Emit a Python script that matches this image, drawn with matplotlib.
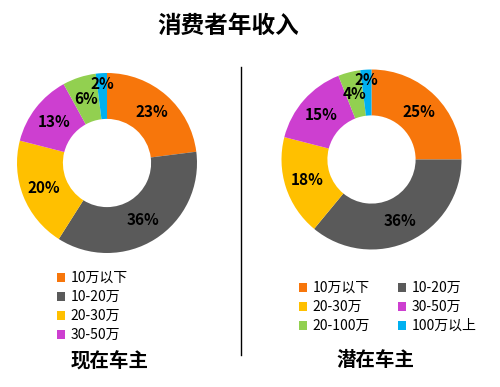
import matplotlib

matplotlib.use("Agg")
import matplotlib.pyplot as plt
from matplotlib.lines import Line2D
from matplotlib.patches import Patch

plt.rcParams["font.family"] = ["Noto Sans CJK SC", "DejaVu Sans"]

TITLE = "消费者年收入"
CATEGORIES = ["10万以下", "10-20万", "20-30万", "30-50万", "20-100万", "100万以上"]
CURRENT_OWNERS = [23, 36, 20, 13, 6, 2]
POTENTIAL_OWNERS = [25, 36, 18, 15, 4, 2]
GROUP_NAMES = ["现在车主", "潜在车主"]
COLORS = ["#F7760B", "#5A5A5A", "#FFC000", "#CD3FD0", "#92D050", "#00B0F0"]

W, H = 500, 387


def px_box(cx, cy, r):
    return [(cx - r) / W, (H - cy - r) / H, 2 * r / W, 2 * r / H]


def draw_donut(ax, values):
    wedges, _, autotexts = ax.pie(
        values,
        colors=COLORS,
        startangle=90,
        counterclock=False,
        radius=1.0,
        wedgeprops=dict(width=0.51, linewidth=0),
        autopct=lambda p: f"{p:.0f}%",
        pctdistance=0.75,
        textprops=dict(fontsize=11, fontweight="bold", color="black"),
    )
    # smallest slice label sits further out, near the rim
    last = autotexts[-1]
    x, y = last.get_position()
    last.set_position((x * 0.88 / 0.75, y * 0.88 / 0.75))
    ax.set_xlim(-1, 1)
    ax.set_ylim(-1, 1)
    return wedges


fig = plt.figure(figsize=(W / 100, H / 100), dpi=100)

ax_left = fig.add_axes(px_box(107, 163, 90))
wedges_left = draw_donut(ax_left, CURRENT_OWNERS)

ax_right = fig.add_axes(px_box(371.5, 159.5, 90))
wedges_right = draw_donut(ax_right, POTENTIAL_OWNERS)

fig.text(228 / W, 1 - 26 / H, TITLE, ha="center", va="center",
         fontsize=17, fontweight="bold")
fig.text(110 / W, 1 - 362 / H, GROUP_NAMES[0], ha="center", va="center",
         fontsize=14, fontweight="bold")
fig.text(375 / W, 1 - 360 / H, GROUP_NAMES[1], ha="center", va="center",
         fontsize=14, fontweight="bold")

fig.add_artist(Line2D([241 / W, 241 / W], [1 - 67 / H, 1 - 355 / H],
                      color="black", linewidth=1))

handles = [Patch(facecolor=c, edgecolor="none") for c in COLORS]
legend_style = dict(
    frameon=False,
    fontsize=10,
    handlelength=0.6,
    handleheight=0.6,
    handletextpad=0.4,
    labelspacing=0.36,
    borderpad=0,
    borderaxespad=0,
    loc="upper left",
)
fig.legend(handles[:4], CATEGORIES[:4],
           bbox_to_anchor=(57 / W, 1 - 271 / H), **legend_style)

order = [0, 2, 4, 1, 3, 5]
fig.legend([handles[i] for i in order], [CATEGORIES[i] for i in order],
           ncol=2, columnspacing=2.0,
           bbox_to_anchor=(299 / W, 1 - 281 / H), **legend_style)

fig.savefig("out.png", dpi=100)
